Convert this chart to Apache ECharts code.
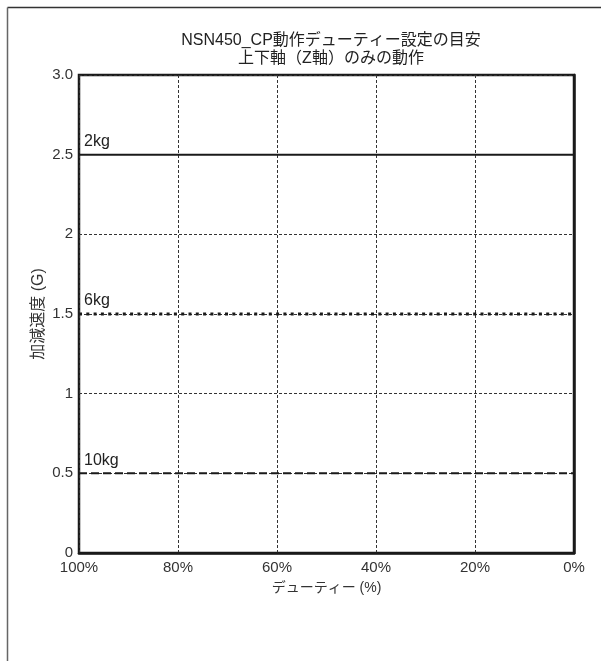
<!DOCTYPE html>
<html><head><meta charset="utf-8">
<script src="https://cdn.jsdelivr.net/npm/echarts@6/dist/echarts.min.js"></script>
<style>html,body{margin:0;padding:0;background:#fff}#c{width:601px;height:661px}</style>
</head><body><div id="c"></div>
<script>
const titleLines = ['NSN450_CP動作デューティー設定の目安', '上下軸（Z軸）のみの動作'];
const xName = 'デューティー (%)';
const yName = '加減速度 (G)';
const loads = ['2kg', '6kg', '10kg'];
const accel = [2.5, 1.5, 0.5];
const dutyRange = [100, 0];
const yTickLabels = {0: '0', 0.5: '0.5', 1: '1', 1.5: '1.5', 2: '2', 2.5: '2.5', 3: '3.0'};

const FONT = "'Liberation Sans', 'Noto Sans CJK JP', sans-serif";
const lineStyles = [
  {type: 'solid', width: 2, color: '#1a1a1a'},
  {type: [3, 4.3], width: 3, color: '#1a1a1a'},
  {type: [8, 4], width: 2, color: '#1a1a1a'}
];

const chart = echarts.init(document.getElementById('c'));
chart.setOption({
  backgroundColor: '#fff',
  animation: false,
  title: {
    text: titleLines.join('\n'),
    left: 326, top: 27, textAlign: 'center',
    textStyle: {fontFamily: FONT, fontSize: 16, fontWeight: 'normal', color: '#222', lineHeight: 18}
  },
  grid: {left: 79, right: 27, top: 75, bottom: 108, show: true, borderColor: '#1a1a1a', borderWidth: 2.5},
  xAxis: {
    type: 'value', min: 0, max: 100, interval: 20, inverse: true,
    name: xName, nameLocation: 'middle', nameGap: 28,
    nameTextStyle: {fontFamily: FONT, fontSize: 14, color: '#333'},
    axisLine: {show: true, lineStyle: {color: '#1a1a1a', width: 2.5}},
    axisTick: {show: false},
    axisLabel: {formatter: '{value}%', fontFamily: FONT, fontSize: 15, color: '#333', margin: 7},
    splitLine: {show: true, lineStyle: {type: [3, 2], color: '#333', width: 1}}
  },
  yAxis: {
    type: 'value', min: 0, max: 3, interval: 0.5,
    name: yName, nameLocation: 'middle', nameGap: 32, nameRotate: 90, nameMoveOverlap: false,
    nameTextStyle: {fontFamily: FONT, fontSize: 16, color: '#333'},
    axisLine: {show: true, lineStyle: {color: '#1a1a1a', width: 2.5}},
    axisTick: {show: false},
    axisLabel: {formatter: v => yTickLabels[v] !== undefined ? yTickLabels[v] : String(v), fontFamily: FONT, fontSize: 15, color: '#333', margin: 6},
    splitLine: {show: true, lineStyle: {type: [3, 2], color: '#333', width: 1}}
  },
  series: loads.map((name, i) => ({
    type: 'line', name: name,
    data: [[dutyRange[0], accel[i]], [dutyRange[1], accel[i]]],
    symbol: 'circle', symbolSize: 0.01, showSymbol: true,
    lineStyle: lineStyles[i],
    itemStyle: {color: 'transparent'},
    label: {
      show: true, position: 'top', align: 'left', distance: 5, offset: [5, 0],
      formatter: p => p.dataIndex === 0 ? name : '',
      fontFamily: FONT, fontSize: 16, color: '#222'
    },
    z: 3
  })),
  graphic: [
    {type: 'line', shape: {x1: 7.5, y1: 7.5, x2: 601, y2: 7.5}, style: {stroke: '#333', lineWidth: 1.5}},
    {type: 'line', shape: {x1: 7.5, y1: 7.5, x2: 7.5, y2: 661}, style: {stroke: '#666', lineWidth: 1.5}}
  ]
});
</script></body></html>
